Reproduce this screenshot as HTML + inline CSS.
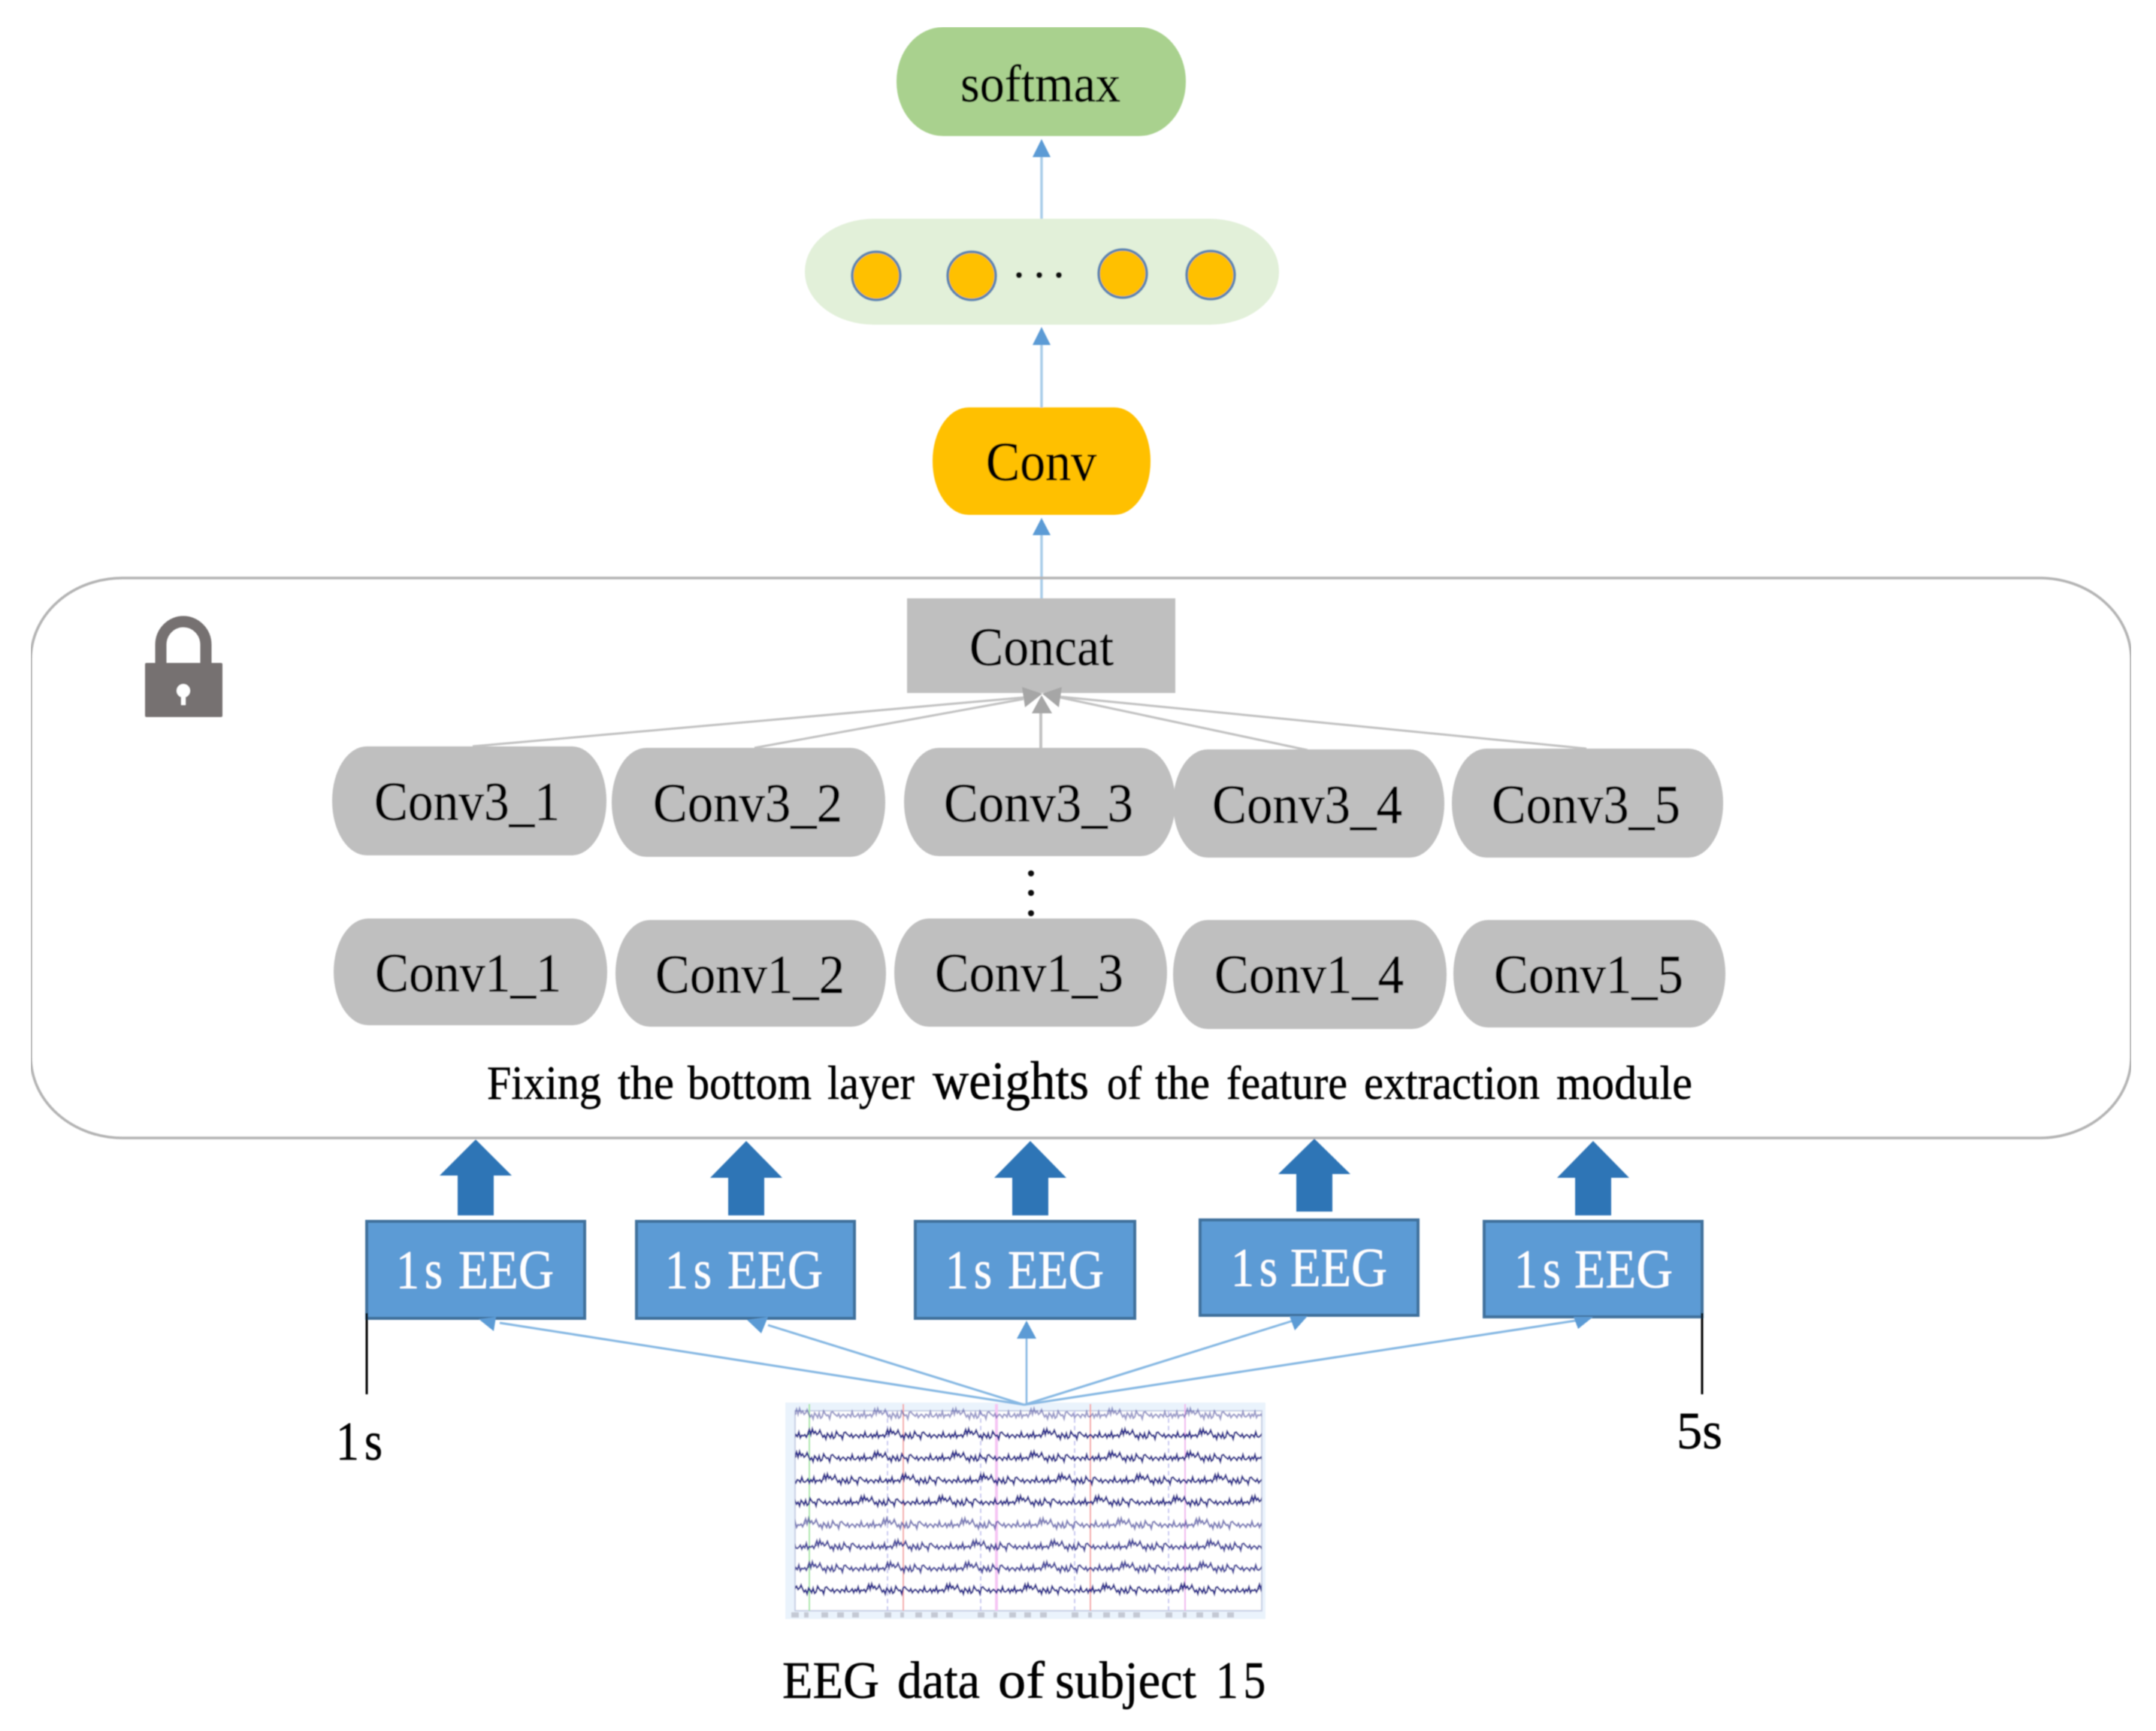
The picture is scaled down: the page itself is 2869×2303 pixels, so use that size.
<!DOCTYPE html>
<html><head><meta charset="utf-8"><title>EEG diagram</title>
<style>
html,body{margin:0;padding:0;background:#fff}
svg{display:block}
text{font-family:"Liberation Serif","Times New Roman",serif;font-size:73px;fill:#000;stroke:#000;stroke-width:.5}
.w{fill:#fff;stroke:#fff;stroke-width:.3}
.g{fill:#bfbfbf}
.l{stroke:#a9cde9;stroke-width:3.5;fill:none}
.h{fill:#5b9bd5}
.gl{stroke:#c2c2c2;stroke-width:3;fill:none}
.gh{fill:#a6a6a6}
.bl{stroke:#86b8e3;stroke-width:3;fill:none}
.ba{fill:#2e75b6}
.eb{fill:#5b9bd5;stroke:#41719c;stroke-width:4}
.c{fill:#ffc000;stroke:#5b85b3;stroke-width:3.5}
.t{fill:none;stroke:#2c2c8c;stroke-width:2.2}
</style></head><body>
<svg xmlns="http://www.w3.org/2000/svg" width="2869" height="2303" viewBox="0 0 2869 2303">
<defs>
<filter id="b" x="0" y="0" width="100%" height="100%"><feGaussianBlur stdDeviation="0.9"/></filter>
<clipPath id="pc"><rect x="1058" y="1870" width="621" height="275"/></clipPath>
<path id="tr" vector-effect="non-scaling-stroke" d="M0 0l4-6 4 8 4-9 4 7 4-3 4 5 4-2 4-5 4 6 4 5 4-3 4 6 4-9 4 3 4 4 4-7 4 8 4-2 4-9 4 4 4 3 4-1 4 6 4-10 4-1 4 3 4 2 4 2 4-4 4 6 4-3 4-2 4 2 4 3 4-5 4 1 4 3 4-8 4 7 4 1 4-2 4-3 4 6 4-5 4 3 4-7 4 9 4-4 4 1 4-2 4 4 4-5l4 0"/>
<g id="line" transform="scale(.5 .85)"><use href="#tr" x="-208"/><use href="#tr"/><use href="#tr" x="208"/><use href="#tr" x="416"/><use href="#tr" x="624"/><use href="#tr" x="832"/><use href="#tr" x="1040"/><use href="#tr" x="1248"/></g>
</defs>
<rect width="2869" height="2303" fill="#fff"/>
<g filter="url(#b)">
<!-- top -->
<rect x="1193" y="36" width="385" height="145" rx="62" ry="72" fill="#a9d18e"/>
<text x="1278" y="135" textLength="213" lengthAdjust="spacingAndGlyphs" style="font-size:70px">softmax</text>
<line class="l" x1="1386" y1="205" x2="1386" y2="291"/>
<polygon class="h" points="1386,185 1398,209 1374,209"/>
<rect x="1071" y="291" width="631" height="141" rx="92" ry="70" fill="#e2f0d9"/>
<circle class="c" cx="1166" cy="367" r="32"/>
<circle class="c" cx="1293" cy="367" r="32"/>
<circle class="c" cx="1494" cy="364" r="32"/>
<circle class="c" cx="1611" cy="366" r="32"/>
<circle cx="1356" cy="366" r="4" fill="#111"/><circle cx="1383" cy="366" r="4" fill="#111"/><circle cx="1409" cy="366" r="4" fill="#111"/>
<line class="l" x1="1386" y1="455" x2="1386" y2="542"/>
<polygon class="h" points="1386,435 1398,459 1374,459"/>
<rect x="1241" y="542" width="290" height="143" rx="48" ry="71" fill="#ffc000"/>
<text x="1312" y="639" textLength="147" lengthAdjust="spacingAndGlyphs" style="font-size:73px">Conv</text>
<line class="l" x1="1386" y1="708" x2="1386" y2="796"/>
<polygon class="h" points="1386,689 1398,712 1374,712"/>
<!-- big box -->
<rect x="41" y="769" width="2795" height="745" rx="122" ry="108" fill="none" stroke="#b4b4b4" stroke-width="3.5"/>
<!-- lock -->
<path d="M214 885V858a30 31 0 0 1 60 0v27" fill="none" stroke="#767171" stroke-width="15"/>
<rect x="193" y="882" width="103" height="72" rx="2" fill="#767171"/>
<circle cx="244" cy="919" r="9" fill="#fff"/><rect x="241" y="920" width="6" height="18" fill="#fff"/>
<!-- concat -->
<rect class="g" x="1207" y="796" width="357" height="126"/>
<text x="1290" y="885" textLength="192" lengthAdjust="spacingAndGlyphs" style="font-size:72px">Concat</text>
<line class="gl" x1="629" y1="993" x2="1362" y2="928"/>
<line class="gl" x1="1004" y1="995" x2="1362" y2="930"/>
<line class="gl" x1="1385" y1="949" x2="1385" y2="995" style="stroke-width:4"/>
<line class="gl" x1="1740" y1="998" x2="1411" y2="928"/>
<line class="gl" x1="2111" y1="996" x2="1411" y2="927"/>
<polygon class="gh" points="1360,914 1387,923 1364,941"/>
<polygon class="gh" points="1413,914 1387,923 1409,941"/>
<polygon class="gh" points="1386,925 1400,949 1373,949"/>
<!-- conv rows -->
<g class="g">
<rect x="442" y="993" width="365" height="145" rx="46" ry="72"/>
<rect x="814" y="995" width="364" height="145" rx="46" ry="72"/>
<rect x="1203" y="995" width="361" height="144" rx="46" ry="72"/>
<rect x="1561" y="997" width="361" height="144" rx="46" ry="72"/>
<rect x="1932" y="996" width="361" height="145" rx="46" ry="72"/>
<rect x="444" y="1222" width="364" height="142" rx="46" ry="71"/>
<rect x="819" y="1224" width="360" height="142" rx="46" ry="71"/>
<rect x="1190" y="1222" width="363" height="144" rx="46" ry="72"/>
<rect x="1561" y="1224" width="364" height="145" rx="46" ry="72"/>
<rect x="1934" y="1224" width="362" height="143" rx="46" ry="71"/>
</g>
<text x="498" y="1091" textLength="247" lengthAdjust="spacingAndGlyphs">Conv3_1</text>
<text x="869" y="1093" textLength="252" lengthAdjust="spacingAndGlyphs">Conv3_2</text>
<text x="1256" y="1093" textLength="252" lengthAdjust="spacingAndGlyphs">Conv3_3</text>
<text x="1613" y="1095" textLength="253" lengthAdjust="spacingAndGlyphs">Conv3_4</text>
<text x="1985" y="1095" textLength="251" lengthAdjust="spacingAndGlyphs">Conv3_5</text>
<circle cx="1372" cy="1162" r="4" fill="#111"/><circle cx="1372" cy="1188" r="4" fill="#111"/><circle cx="1372" cy="1215" r="4" fill="#111"/>
<text x="499" y="1319" textLength="248" lengthAdjust="spacingAndGlyphs">Conv1_1</text>
<text x="872" y="1321" textLength="252" lengthAdjust="spacingAndGlyphs">Conv1_2</text>
<text x="1244" y="1319" textLength="251" lengthAdjust="spacingAndGlyphs">Conv1_3</text>
<text x="1616" y="1321" textLength="252" lengthAdjust="spacingAndGlyphs">Conv1_4</text>
<text x="1988" y="1321" textLength="252" lengthAdjust="spacingAndGlyphs">Conv1_5</text>
<!-- caption -->
<g>
<text style="font-size:63px" x="648" y="1462" textLength="152" lengthAdjust="spacingAndGlyphs">Fixing</text>
<text style="font-size:63px" x="822" y="1462" textLength="75" lengthAdjust="spacingAndGlyphs">the</text>
<text style="font-size:63px" x="915" y="1462" textLength="165" lengthAdjust="spacingAndGlyphs">bottom</text>
<text style="font-size:63px" x="1101" y="1462" textLength="116" lengthAdjust="spacingAndGlyphs">layer</text>
<text style="font-size:72px" x="1241" y="1462" textLength="208" lengthAdjust="spacingAndGlyphs">weights</text>
<text style="font-size:63px" x="1473" y="1462" textLength="46" lengthAdjust="spacingAndGlyphs">of</text>
<text style="font-size:63px" x="1537" y="1462" textLength="73" lengthAdjust="spacingAndGlyphs">the</text>
<text style="font-size:63px" x="1632" y="1462" textLength="161" lengthAdjust="spacingAndGlyphs">feature</text>
<text style="font-size:63px" x="1815" y="1462" textLength="234" lengthAdjust="spacingAndGlyphs">extraction</text>
<text style="font-size:63px" x="2071" y="1462" textLength="181" lengthAdjust="spacingAndGlyphs">module</text>
</g>
<!-- block arrows -->
<polygon class="ba" points="633,1516 681,1564 657,1564 657,1617 609,1617 609,1564 585,1564"/>
<polygon class="ba" points="993,1518 1041,1567 1017,1567 1017,1617 969,1617 969,1567 945,1567"/>
<polygon class="ba" points="1371,1518 1419,1567 1395,1567 1395,1617 1347,1617 1347,1567 1323,1567"/>
<polygon class="ba" points="1749,1515 1797,1562 1773,1562 1773,1612 1725,1612 1725,1562 1701,1562"/>
<polygon class="ba" points="2120,1518 2168,1567 2144,1567 2144,1617 2096,1617 2096,1567 2072,1567"/>
<!-- EEG image -->
<rect x="1045" y="1866" width="639" height="288" fill="#eaf3fc"/>
<rect x="1058" y="1877" width="621" height="266" fill="#fff" stroke="#c8cfe4" stroke-width="2"/>
<g stroke-width="2" fill="none">
<line x1="1077" y1="1868" x2="1077" y2="2143" stroke="#a6e6a6"/>
<line x1="1202" y1="1868" x2="1202" y2="2143" stroke="#f4a6a6"/>
<line x1="1326" y1="1868" x2="1326" y2="2143" stroke="#f6c6f4" stroke-width="4"/>
<line x1="1451" y1="1868" x2="1451" y2="2143" stroke="#f4a6a6"/>
<line x1="1577" y1="1868" x2="1577" y2="2143" stroke="#f0b4ee"/>
<g stroke="#c8c8f0" stroke-dasharray="6 4">
<line x1="1181" y1="1877" x2="1181" y2="2143"/><line x1="1305" y1="1877" x2="1305" y2="2143"/>
<line x1="1430" y1="1877" x2="1430" y2="2143"/><line x1="1555" y1="1877" x2="1555" y2="2143"/>
</g>
</g>
<g clip-path="url(#pc)" class="t">
<use href="#line" x="1058" y="1880" opacity=".45"/>
<use href="#line" x="1075" y="1907"/>
<use href="#line" x="1058" y="1937"/>
<use href="#line" x="1095" y="1967"/>
<use href="#line" x="1040" y="1996"/>
<use href="#line" x="1070" y="2026" opacity=".6"/>
<use href="#line" x="1085" y="2055" opacity=".85"/>
<use href="#line" x="1075" y="2084" opacity=".85"/>
<use href="#line" x="1050" y="2113"/>
</g>
<g fill="#c4c9d4">
<rect x="1053" y="2145" width="10" height="7"/><rect x="1070" y="2145" width="6" height="7"/><rect x="1093" y="2145" width="9" height="7"/><rect x="1114" y="2145" width="9" height="7"/><rect x="1134" y="2145" width="9" height="7"/>
<rect x="1177" y="2145" width="9" height="7"/><rect x="1198" y="2145" width="5" height="7"/><rect x="1218" y="2145" width="9" height="7"/><rect x="1239" y="2145" width="9" height="7"/><rect x="1259" y="2145" width="9" height="7"/>
<rect x="1301" y="2145" width="9" height="7"/><rect x="1322" y="2145" width="5" height="7"/><rect x="1343" y="2145" width="9" height="7"/><rect x="1363" y="2145" width="9" height="7"/><rect x="1384" y="2145" width="9" height="7"/>
<rect x="1426" y="2145" width="9" height="7"/><rect x="1448" y="2145" width="5" height="7"/><rect x="1468" y="2145" width="9" height="7"/><rect x="1488" y="2145" width="9" height="7"/><rect x="1508" y="2145" width="9" height="7"/>
<rect x="1551" y="2145" width="9" height="7"/><rect x="1574" y="2145" width="5" height="7"/><rect x="1592" y="2145" width="9" height="7"/><rect x="1613" y="2145" width="9" height="7"/><rect x="1633" y="2145" width="9" height="7"/>
</g>
<!-- thin arrows -->
<line class="bl" x1="1363" y1="1869" x2="665" y2="1760"/>
<line class="bl" x1="1363" y1="1869" x2="1022" y2="1763"/>
<line class="bl" x1="1366" y1="1869" x2="1366" y2="1781" style="stroke-width:2.5"/>
<line class="bl" x1="1363" y1="1869" x2="1721" y2="1757"/>
<line class="bl" x1="1363" y1="1869" x2="2097" y2="1757"/>
<!-- EEG boxes -->
<rect class="eb" x="488" y="1625" width="290" height="129"/>
<rect class="eb" x="847" y="1625" width="290" height="129"/>
<rect class="eb" x="1218" y="1625" width="292" height="129"/>
<rect class="eb" x="1597" y="1623" width="290" height="127"/>
<rect class="eb" x="1975" y="1625" width="290" height="127"/>
<polygon class="h" points="637,1755 660,1752 657,1771"/>
<polygon class="h" points="994,1756 1022,1752 1013,1774"/>
<polygon class="h" points="1366,1757 1379,1781 1353,1781"/>
<polygon class="h" points="1740,1751 1716,1751 1723,1770"/>
<polygon class="h" points="2120,1752 2094,1752 2100,1768"/>
<g style="letter-spacing:8px">
<text class="w" transform="translate(527,1714) scale(.85,1)">1s</text>
<text class="w" transform="translate(885,1714) scale(.85,1)">1s</text>
<text class="w" transform="translate(1258,1714) scale(.85,1)">1s</text>
<text class="w" transform="translate(1638,1711) scale(.85,1)">1s</text>
<text class="w" transform="translate(2015,1713) scale(.85,1)">1s</text>
</g>
<text class="w" x="610" y="1714" textLength="127" lengthAdjust="spacingAndGlyphs">EEG</text>
<text class="w" x="968" y="1714" textLength="127" lengthAdjust="spacingAndGlyphs">EEG</text>
<text class="w" x="1341" y="1714" textLength="128" lengthAdjust="spacingAndGlyphs">EEG</text>
<text class="w" x="1717" y="1711" textLength="129" lengthAdjust="spacingAndGlyphs">EEG</text>
<text class="w" x="2095" y="1713" textLength="131" lengthAdjust="spacingAndGlyphs">EEG</text>
<!-- black lines -->
<line x1="488" y1="1747" x2="488" y2="1855" stroke="#000" stroke-width="3"/>
<line x1="2265" y1="1747" x2="2265" y2="1855" stroke="#000" stroke-width="3"/>
<text transform="translate(447,1942) scale(.85,1)" style="letter-spacing:8px">1s</text>
<text x="2231" y="1927" textLength="61" lengthAdjust="spacingAndGlyphs" style="font-size:70px">5s</text>
<!-- caption bottom -->
<text x="1041" y="2259" textLength="129" lengthAdjust="spacingAndGlyphs" style="font-size:70px">EEG</text>
<text x="1194" y="2259" textLength="110" lengthAdjust="spacingAndGlyphs" style="font-size:70px">data</text>
<text x="1328" y="2259" textLength="62" lengthAdjust="spacingAndGlyphs" style="font-size:70px">of</text>
<text x="1404" y="2259" textLength="188" lengthAdjust="spacingAndGlyphs" style="font-size:70px">subject</text>
<text transform="translate(1618,2259) scale(.85,1)" style="font-size:70px;letter-spacing:8px">15</text>
</g>
</svg>
</body></html>
